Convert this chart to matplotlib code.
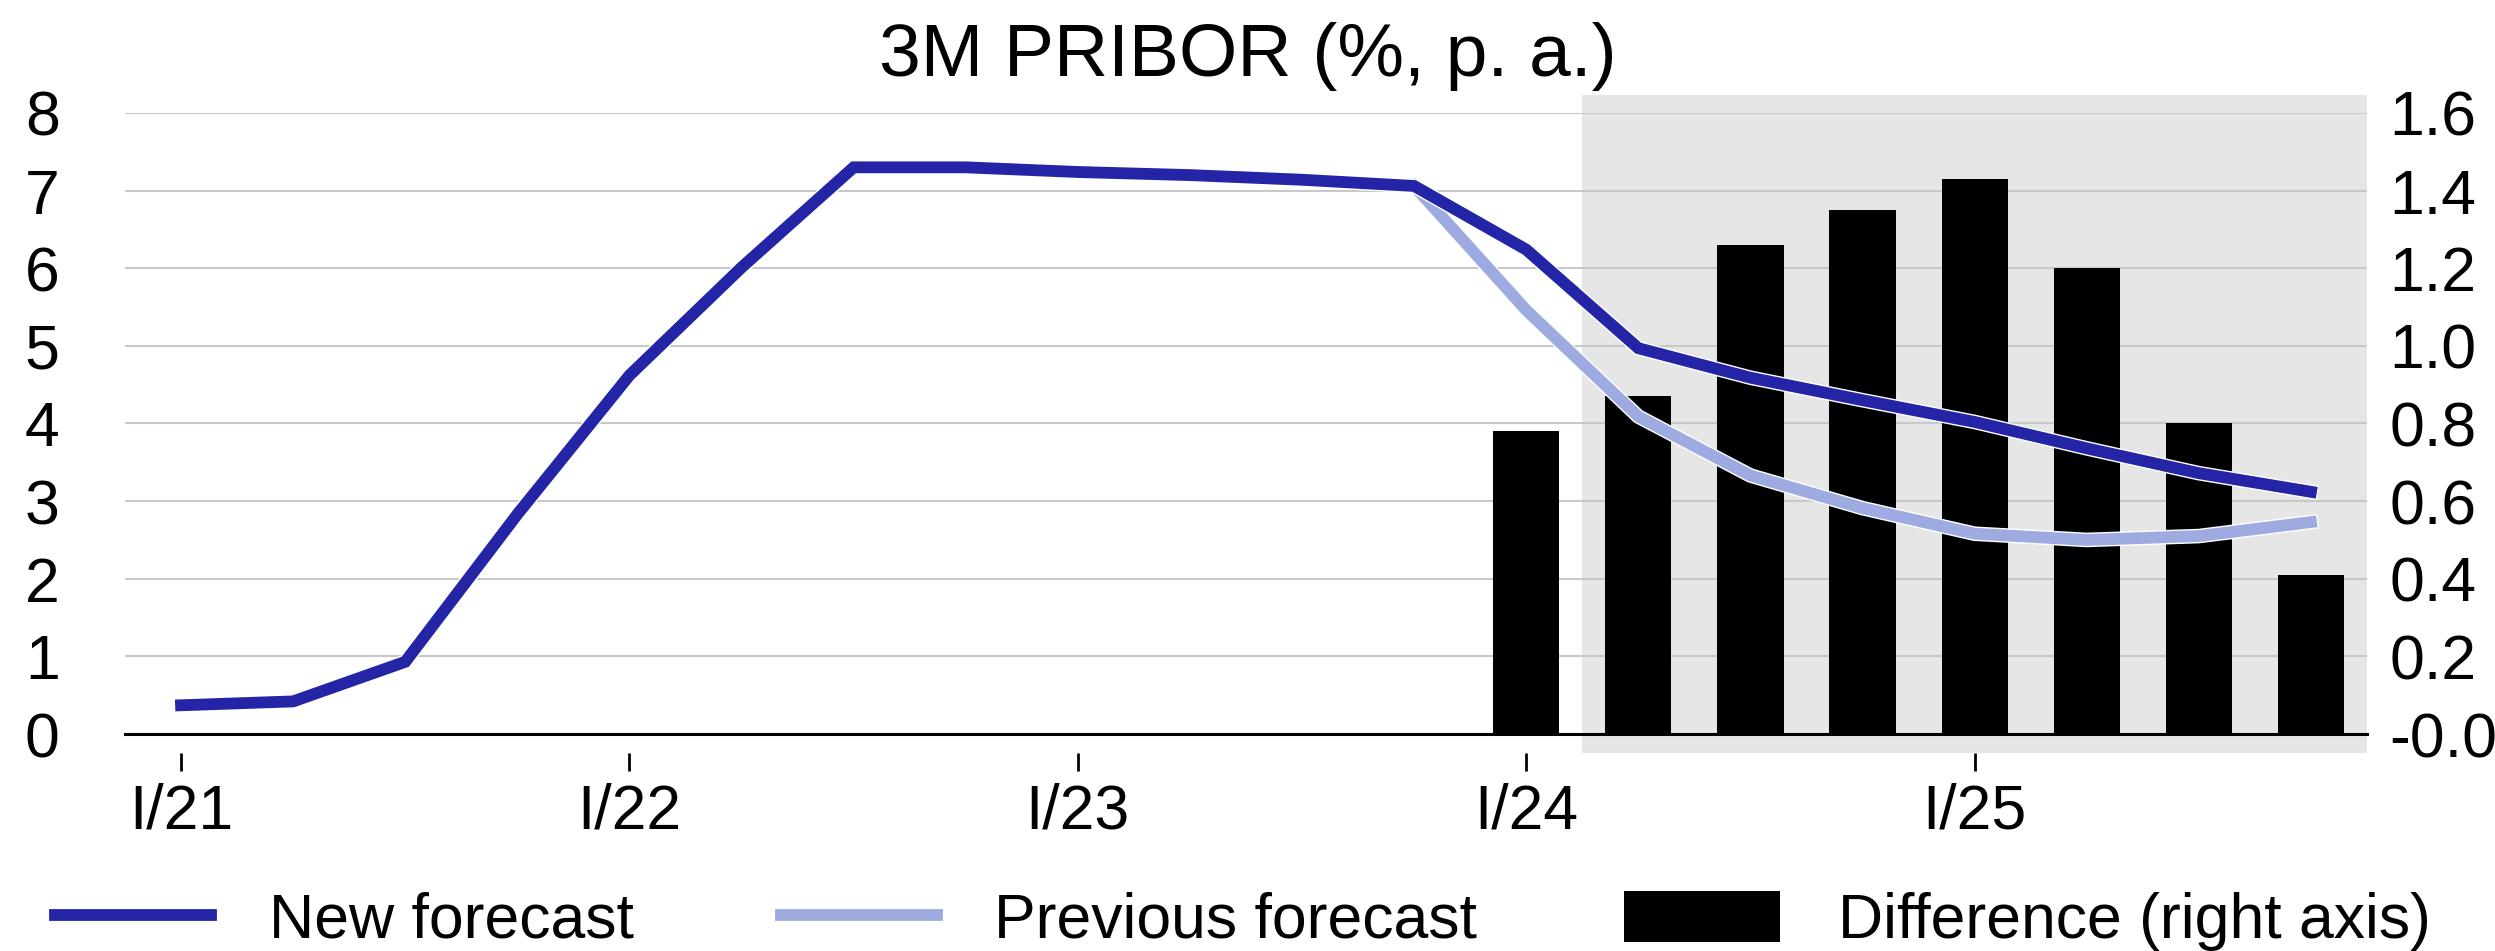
import numpy as np
import matplotlib
matplotlib.use('Agg')
import matplotlib.pyplot as plt
import matplotlib.patheffects as pe
from matplotlib.patches import Rectangle

plt.rcParams['font.family'] = ['Liberation Sans', 'DejaVu Sans']

# Quarterly data, I/21 .. IV/25
quarters = [f'{q}/{y}' for y in range(21, 26) for q in ['I', 'II', 'III', 'IV']]
new_forecast = [0.37, 0.42, 0.93, 2.83, 4.62, 6.01, 7.30, 7.30, 7.24, 7.20,
                7.14, 7.06, 6.24, 4.97, 4.59, 4.30, 4.02, 3.68, 3.36, 3.12]
previous_forecast = [np.nan] * 11 + [7.06, 5.46, 4.09, 3.33, 2.91, 2.58, 2.50, 2.55, 2.73]
difference_quarters = quarters[12:]
difference = [0.78, 0.87, 1.26, 1.35, 1.43, 1.20, 0.80, 0.41]

left_ticks = [0, 1, 2, 3, 4, 5, 6, 7, 8]
right_ticks = [0.0, 0.2, 0.4, 0.6, 0.8, 1.0, 1.2, 1.4, 1.6]
right_labels = ['-0.0', '0.2', '0.4', '0.6', '0.8', '1.0', '1.2', '1.4', '1.6']

dark_blue = '#2424a6'
light_blue = '#9dabe1'
fs = 45

x = np.arange(len(quarters))
xd = np.array([quarters.index(q) for q in difference_quarters])

fig = plt.figure(figsize=(24.95, 9.51), dpi=100)
ax = fig.add_axes([125 / 2495, 1 - 734 / 951, (2367 - 125) / 2495, (734 - 113) / 951])
ax2 = ax.twinx()

# lines axis on top of bars axis
ax.set_zorder(ax2.get_zorder() + 1)
ax.patch.set_visible(False)

# forecast period shading
ax2.add_patch(Rectangle((12.5, -0.245), 7, 8.475, transform=ax.transData,
                        facecolor='#e6e6e6', edgecolor='none', clip_on=False, zorder=0.2))

ax2.bar(xd, difference, width=0.59, color='black', zorder=2)
ax2.set_ylim(0, 1.6)
ax2.set_yticks(right_ticks, labels=right_labels)
ax2.set_axisbelow(True)
ax2.grid(axis='y', color='#c8c8c8', linewidth=1.5)
ax2.tick_params(axis='y', length=0, pad=16, labelsize=fs)

outline = [pe.Stroke(linewidth=10.5, foreground='white'), pe.Normal()]
ax.plot(x, previous_forecast, color=light_blue, linewidth=8.5,
        solid_joinstyle='miter', path_effects=outline, label='Previous forecast', zorder=3)
ax.plot(x, new_forecast, color=dark_blue, linewidth=8.5,
        solid_joinstyle='miter', path_effects=outline, label='New forecast', zorder=4)
ax.axhline(0, color='black', linewidth=2.2, zorder=5, clip_on=False)

ax.set_xlim(-0.5, 19.5)
ax.set_ylim(0, 8)
ax.set_yticks(left_ticks)
ax.tick_params(axis='y', length=0, pad=47, labelsize=fs)

ax.set_xticks(x[::4], labels=quarters[::4])
ax.tick_params(axis='x', direction='out', length=13, width=2, pad=8, labelsize=fs)
ax.spines['bottom'].set_position(('outward', 13.7))

for a in (ax, ax2):
    for s in a.spines.values():
        s.set_visible(False)

fig.text(0.5, 1 - 76 / 951, '3M PRIBOR (%, p. a.)', ha='center', va='baseline', fontsize=54)

handles, labels = ax.get_legend_handles_labels()
bar_handle = Rectangle((0, 0), 1, 1, facecolor='black')
fig.legend([handles[1], handles[0], bar_handle],
           ['New forecast', 'Previous forecast', 'Difference (right axis)'],
           loc='center left', bbox_to_anchor=(55 / 2495, 1 - 921 / 951),
           ncol=3, frameon=False, fontsize=fs, handlelength=2.5, handleheight=0.87,
           handletextpad=0.92, columnspacing=2.35, borderpad=0, borderaxespad=0)

fig.savefig('out.png', dpi=100)
